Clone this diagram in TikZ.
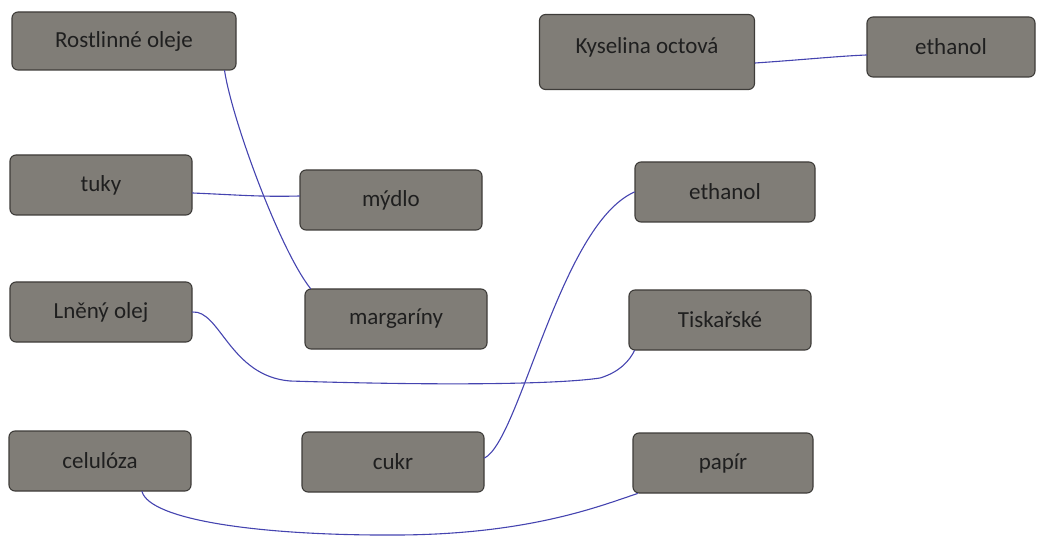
\documentclass[tikz,border=0pt]{standalone}
\usepackage{fontspec}
\setmainfont{Carlito}
\usepackage{tikz}
\usetikzlibrary{positioning}

\definecolor{boxgrey}{HTML}{807D77}
\definecolor{boxedge}{HTML}{3E3C39}
\definecolor{pen}{HTML}{4544B0}

\tikzset{
    term/.style={draw=boxedge, fill=boxgrey, line width=1.1pt, rounded corners=6pt,
        minimum width=182pt, minimum height=60pt, inner sep=0pt,
        text=black!88, font=\fontsize{23}{26}\selectfont},
    wire/.style={draw=pen, line width=1.1pt, line cap=round}
}

\begin{document}
\begin{tikzpicture}[x=1pt, y=-1pt]

    \useasboundingbox (0,0) rectangle (1045,540);

    % DRAW TERMS
    \node[term, minimum width=224pt, minimum height=58pt] (rost) at (124,41) {Rostlinné oleje};
    \node[term, minimum width=215pt, minimum height=75pt, text depth=12pt] (kys) at (647,52) {Kyselina octová};
    \node[term, minimum width=168pt] (eth1) at (951,47) {ethanol};
    \node[term] (tuky) at (101,185) {tuky};
    \node[term] (mydlo) at (391,200) {mýdlo};
    \node[term, minimum width=180pt] (eth2) at (725,192) {ethanol};
    \node[term] (lneny) at (101,312) {Lněný olej};
    \node[term] (marg) at (396,319) {margaríny};
    \node[term] (tisk) at (720,320) {Tiskařské};
    \node[term] (celul) at (100,461) {celulóza};
    \node[term] (cukr) at (393,462) {cukr};
    \node[term, minimum width=180pt] (papir) at (723,463) {papír};

    % DRAW PAIRS
    \draw[wire] ([xshift=-12pt]rost.south east) .. controls (232,120) and (280,250) .. ([xshift=6pt]marg.north west);
    \draw[wire] ([yshift=-8pt]tuky.east) .. controls (240,195) and (260,197) .. ([yshift=4pt]mydlo.west);
    \draw[wire] ([yshift=-11pt]kys.east) .. controls (800,60) and (840,56) .. ([yshift=-8pt]eth1.west);
    \draw[wire] (lneny.east) .. controls (220,310) and (230,376) .. (290,381)
        .. controls (450,386) and (560,384) .. (600,378)
        .. controls (620,372) and (630,360) .. ([xshift=6pt]tisk.south west);
    \draw[wire] ([yshift=4pt]cukr.east) .. controls (520,440) and (560,225) .. (eth2.west);
    \draw[wire] ([xshift=42pt]celul.south) .. controls (150,520) and (260,536) .. (400,535)
        .. controls (530,534) and (600,506) .. ([xshift=5pt]papir.south west);

\end{tikzpicture}
\end{document}
